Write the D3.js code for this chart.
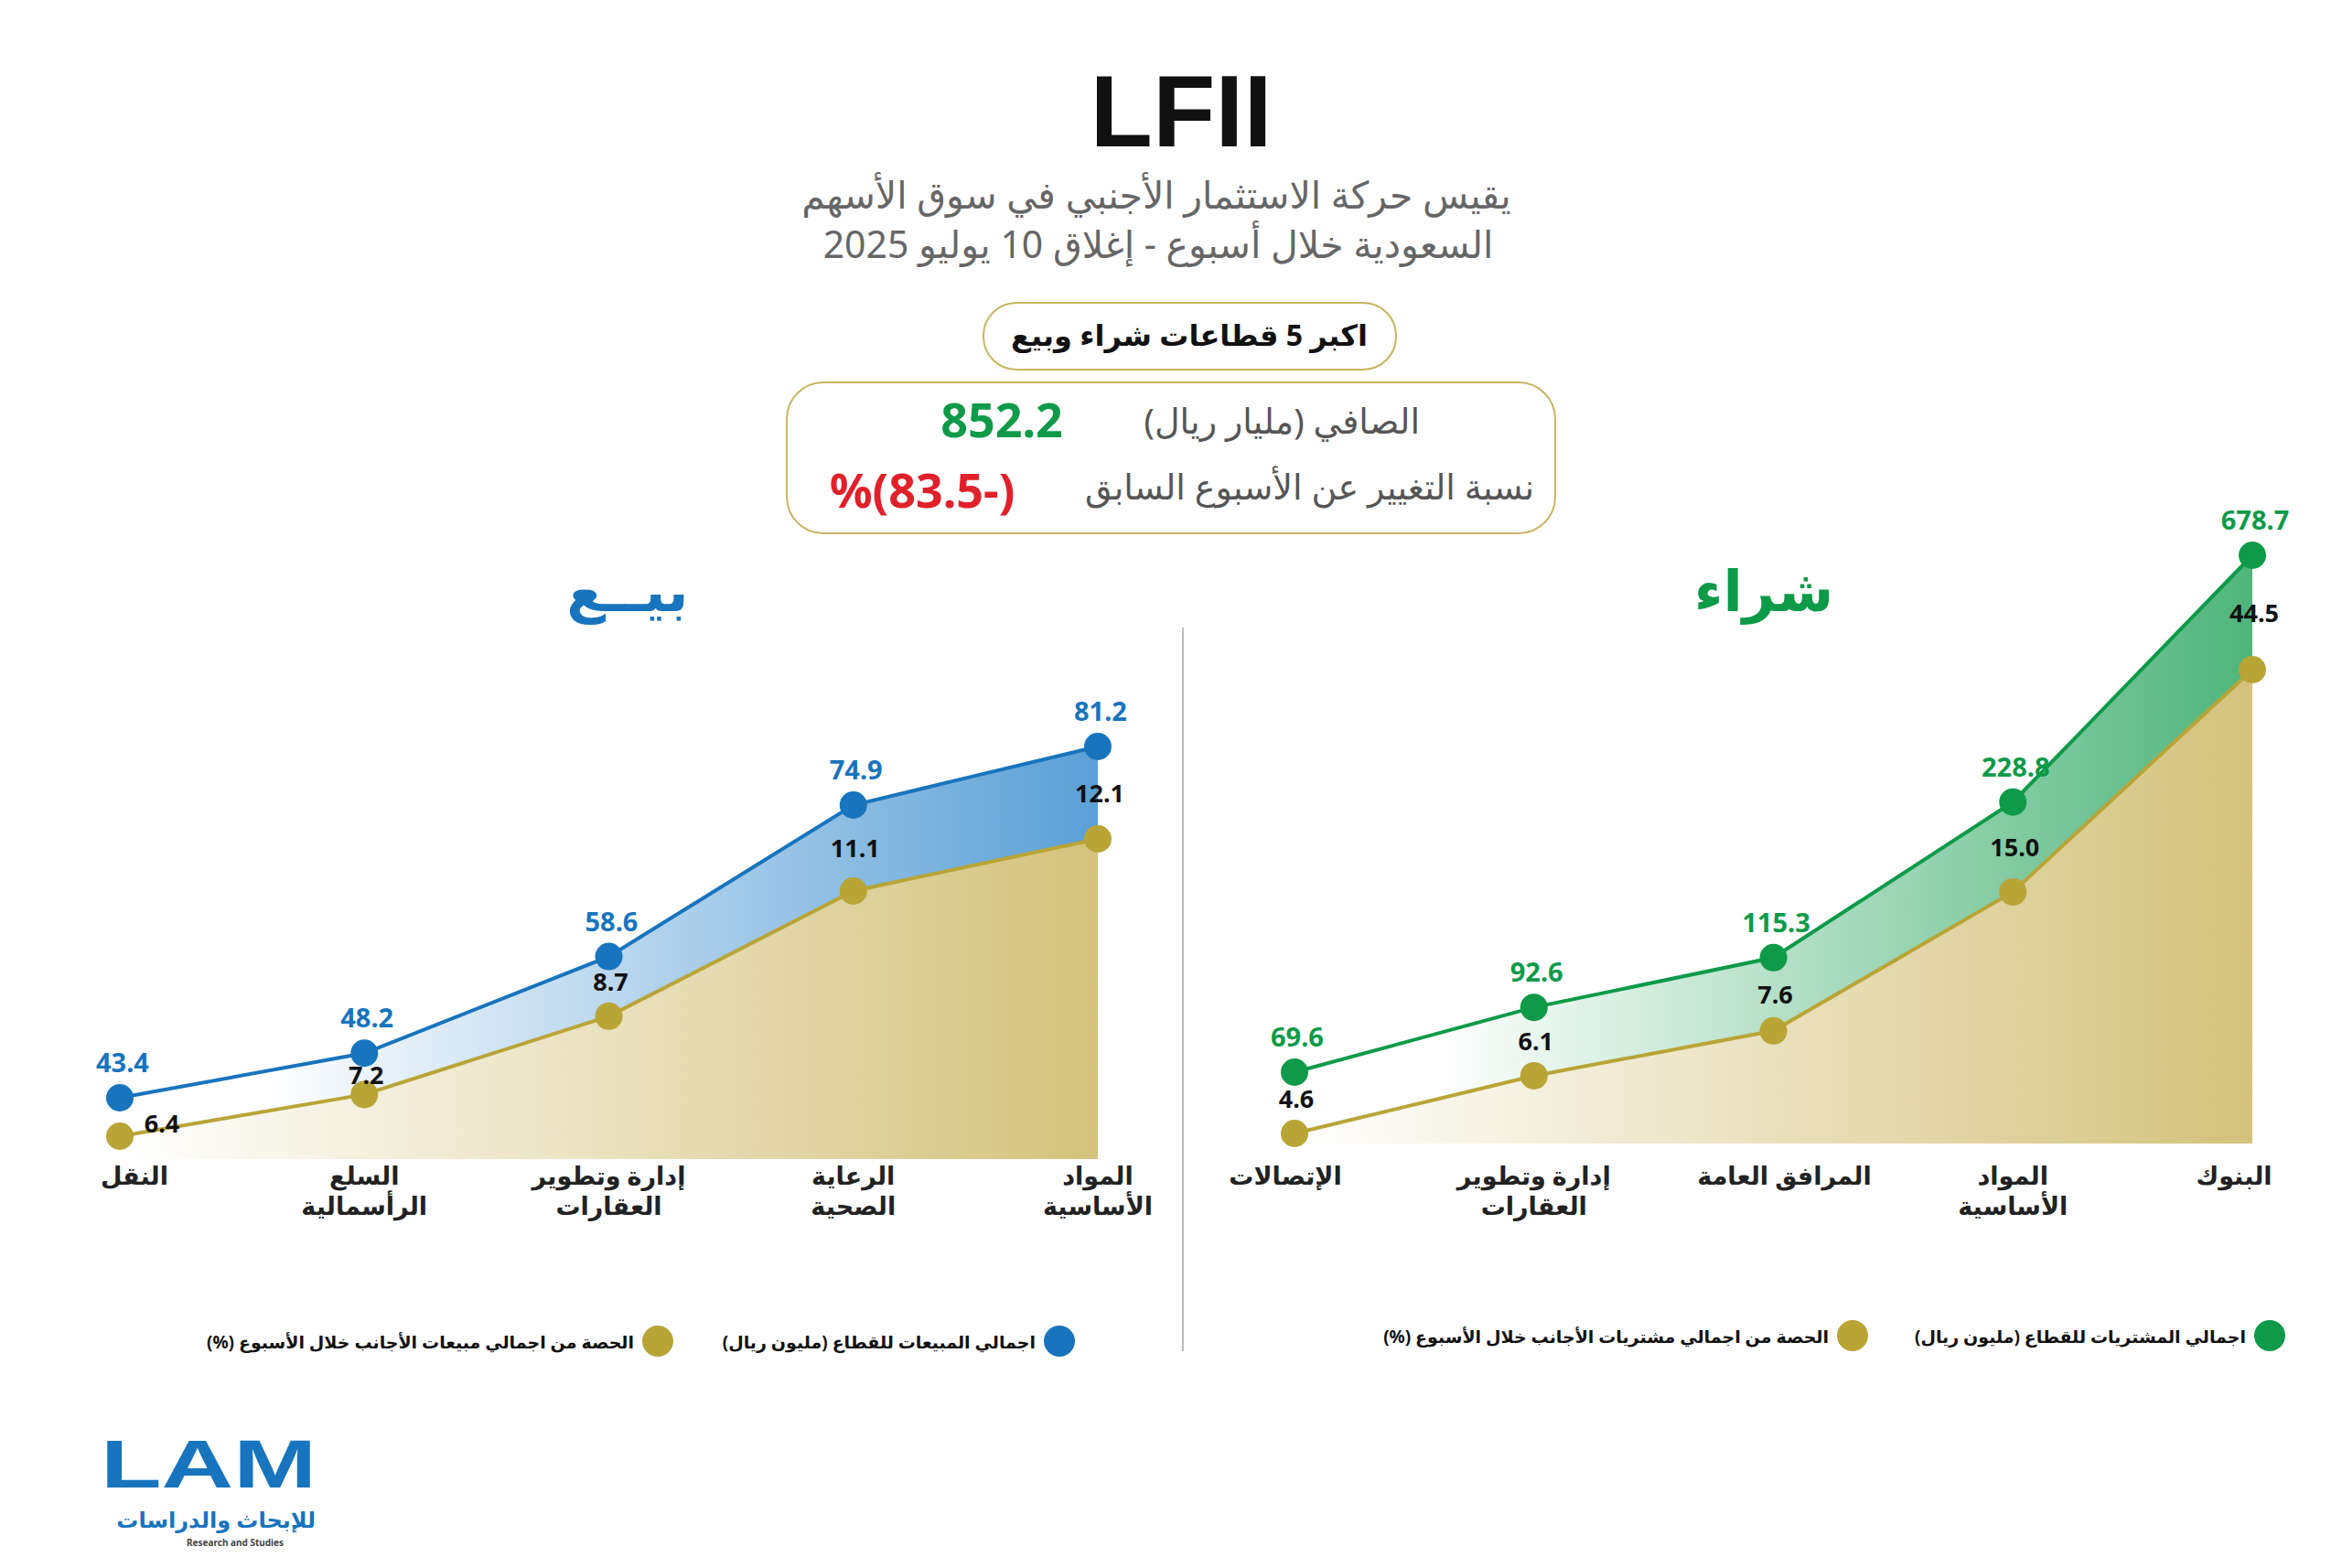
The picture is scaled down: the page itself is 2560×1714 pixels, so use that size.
<!DOCTYPE html>
<html><head><meta charset="utf-8">
<script src="https://cdn.jsdelivr.net/npm/d3@7"></script>
<style>body{margin:0;background:#fff}text{font-family:"Noto Sans","DejaVu Sans",sans-serif}</style>
</head><body><div id="chart"></div>
<script>
var sellSectors = [["النقل"], ["السلع", "الرأسمالية"], ["إدارة وتطوير", "العقارات"], ["الرعاية", "الصحية"], ["المواد", "الأساسية"]];
var sellTotals = [43.4, 48.2, 58.6, 74.9, 81.2];
var sellShares = [6.4, 7.2, 8.7, 11.1, 12.1];
var buySectors = [["الإتصالات"], ["إدارة وتطوير", "العقارات"], ["المرافق العامة"], ["المواد", "الأساسية"], ["البنوك"]];
var buyTotals = [69.6, 92.6, 115.3, 228.8, 678.7];
var buyShares = [4.6, 6.1, 7.6, 15.0, 44.5];
var netValue = "852.2", changeValue = "%(83.5-)";

var W = 2560, H = 1714;
var blue = "#1874bd", green = "#0e9a48", gold = "#b9a436", tan = "#d4c27c";
var svg = d3.select("#chart").append("svg").attr("width", W).attr("height", H);
var defs = svg.append("defs");

function grad(id, color, x0, x1, op) {
    var g = defs.append("linearGradient").attr("id", id).attr("gradientUnits", "userSpaceOnUse")
        .attr("x1", x0).attr("x2", x1).attr("y1", 0).attr("y2", 0);
    g.append("stop").attr("offset", 0).attr("stop-color", color).attr("stop-opacity", 0);
    g.append("stop").attr("offset", 1).attr("stop-color", color).attr("stop-opacity", op);
}

// place arabic text by its right edge
function rightText(right, y, size, weight, color, str) {
    var t = svg.append("text").attr("y", y).attr("text-anchor", "middle").attr("direction", "rtl")
        .attr("font-size", size).attr("font-weight", weight).attr("fill", color).text(str);
    var len = t.node().getComputedTextLength();
    t.attr("x", right - len / 2);
    return t;
}

// header
svg.append("text").attr("x", 1291).attr("y", 160).attr("text-anchor", "middle")
    .style("font-family", "'Liberation Sans Narrow','Liberation Sans',sans-serif")
    .attr("font-size", 112).attr("font-weight", 700).attr("fill", "#111").text("LFII");
svg.append("text").attr("x", 1264).attr("y", 228).attr("text-anchor", "middle").attr("direction", "rtl")
    .attr("font-size", 41).attr("fill", "#666").text("يقيس حركة الاستثمار الأجنبي في سوق الأسهم");
svg.append("text").attr("x", 1266).attr("y", 282).attr("text-anchor", "middle").attr("direction", "rtl")
    .attr("font-size", 41).attr("fill", "#666").text("السعودية خلال أسبوع - إغلاق 10 يوليو 2025");

svg.append("rect").attr("x", 1075).attr("y", 331).attr("width", 451).attr("height", 73).attr("rx", 36)
    .attr("fill", "#fff").attr("stroke", "#c9b560").attr("stroke-width", 2);
svg.append("text").attr("x", 1300).attr("y", 378).attr("text-anchor", "middle").attr("direction", "rtl")
    .attr("font-size", 32).attr("font-weight", 700).attr("fill", "#111").text("اكبر 5 قطاعات شراء وبيع");

svg.append("rect").attr("x", 860).attr("y", 418).attr("width", 840).attr("height", 165).attr("rx", 40)
    .attr("fill", "#fff").attr("stroke", "#c9b560").attr("stroke-width", 2);
rightText(1552, 474, 38, 400, "#555", "الصافي (مليار ريال)");
svg.append("text").attr("x", 1095).attr("y", 478).attr("text-anchor", "middle")
    .attr("font-size", 52).attr("font-weight", 700).attr("fill", green).text(netValue);
rightText(1677, 546, 38, 400, "#555", "نسبة التغيير عن الأسبوع السابق");
svg.append("text").attr("x", 1008).attr("y", 555).attr("text-anchor", "middle")
    .attr("font-size", 52).attr("font-weight", 700).attr("fill", "#e0202a").text(changeValue);

svg.append("line").attr("x1", 1293).attr("x2", 1293).attr("y1", 686).attr("y2", 1477)
    .attr("stroke", "#bbb").attr("stroke-width", 2);

function drawPanel(cfg) {
    var g = svg.append("g");
    var x = d3.scalePoint().domain(d3.range(5)).range(cfg.xr);
    var yT = cfg.yT, yS = cfg.yS;
    grad(cfg.id + "a", tan, cfg.xr[0], cfg.xr[1], 1);
    grad(cfg.id + "b", cfg.band, cfg.xr[0] + (cfg.xr[1] - cfg.xr[0]) * 0.15, cfg.xr[1], 0.85);

    var idx = d3.range(5);
    g.append("path").datum(idx).attr("fill", "url(#" + cfg.id + "a)")
        .attr("d", d3.area().x(function(i) { return x(i); }).y0(cfg.base).y1(function(i) { return yS(cfg.shares[i]); }));
    g.append("path").datum(idx).attr("fill", "url(#" + cfg.id + "b)")
        .attr("d", d3.area().x(function(i) { return x(i); })
            .y0(function(i) { return yS(cfg.shares[i]); }).y1(function(i) { return yT(cfg.totals[i]); }));
    g.append("path").datum(idx).attr("fill", "none").attr("stroke", gold).attr("stroke-width", 4)
        .attr("d", d3.line().x(function(i) { return x(i); }).y(function(i) { return yS(cfg.shares[i]); }));
    g.append("path").datum(idx).attr("fill", "none").attr("stroke", cfg.color).attr("stroke-width", 4)
        .attr("d", d3.line().x(function(i) { return x(i); }).y(function(i) { return yT(cfg.totals[i]); }));

    g.selectAll(".gs").data(idx).enter().append("circle")
        .attr("cx", function(i) { return x(i); }).attr("cy", function(i) { return yS(cfg.shares[i]); })
        .attr("r", 15).attr("fill", gold);
    g.selectAll(".ts").data(idx).enter().append("circle")
        .attr("cx", function(i) { return x(i); }).attr("cy", function(i) { return yT(cfg.totals[i]); })
        .attr("r", 15).attr("fill", cfg.color);

    g.selectAll(".tl").data(idx).enter().append("text")
        .attr("x", function(i) { return x(i) + 3; }).attr("y", function(i) { return yT(cfg.totals[i]) - 28; })
        .attr("text-anchor", "middle").attr("font-size", 29).attr("font-weight", 700).attr("fill", cfg.color)
        .text(function(i) { return cfg.totals[i].toFixed(1); });
    g.selectAll(".sl").data(idx).enter().append("text")
        .attr("x", function(i) { return x(i) + (i === 0 && cfg.id === "s" ? 46 : 2); })
        .attr("y", function(i) {
            if (i === 0 && cfg.id === "s") return yS(cfg.shares[i]) - 4;
            var mid = (yS(cfg.shares[i]) + yT(cfg.totals[i])) / 2;
            return Math.max(Math.min(mid + 10, yS(cfg.shares[i]) - 28), yT(cfg.totals[i]) + 34);
        })
        .attr("text-anchor", "middle").attr("font-size", 27).attr("font-weight", 700).attr("fill", "#111")
        .text(function(i) { return cfg.shares[i].toFixed(1); });

    g.selectAll(".cat").data(idx).enter().append("text")
        .attr("x", function(i) { return x(i) + cfg.labelDx[i]; }).attr("y", 1295)
        .attr("text-anchor", "middle").attr("font-size", 27).attr("font-weight", 700).attr("fill", "#222")
        .each(function(i) {
            var t = d3.select(this);
            cfg.sectors[i].forEach(function(s, k) {
                t.append("tspan").attr("x", x(i) + cfg.labelDx[i]).attr("dy", k ? 33 : 0).text(s);
            });
        });

    svg.append("text").attr("x", cfg.titleX).attr("y", 668).attr("text-anchor", "middle")
        .attr("font-size", 62).attr("font-weight", 700).attr("fill", cfg.color).text(cfg.title);

    cfg.legend.forEach(function(l) {
        svg.append("circle").attr("cx", l.cx).attr("cy", cfg.legendY).attr("r", 17).attr("fill", l.c);
        rightText(l.cx - 26, cfg.legendY + 8, 19, 700, "#111", l.t);
    });
}

drawPanel({
    id: "s", color: blue, band: "#3d8fcf", xr: [131, 1200], base: 1267,
    yT: d3.scaleLinear().domain([43.4, 81.2]).range([1200, 816]),
    yS: d3.scaleLinear().domain([6.4, 12.1]).range([1242, 917]),
    totals: sellTotals, shares: sellShares, sectors: sellSectors,
    labelDx: [16, 0, 0, 0, 0], title: "بيــع", titleX: 686, legendY: 1466,
    legend: [{cx: 1158, c: blue, t: "اجمالي المبيعات للقطاع (مليون ريال)"},
             {cx: 719, c: gold, t: "الحصة من اجمالي مبيعات الأجانب خلال الأسبوع (%)"}]
});
drawPanel({
    id: "b", color: green, band: "#2fa863", xr: [1415, 2462], base: 1250,
    yT: d3.scaleLog().domain([69.6, 678.7]).range([1172, 607]),
    yS: d3.scaleLog().domain([4.6, 44.5]).range([1239, 732]),
    totals: buyTotals, shares: buyShares, sectors: buySectors,
    labelDx: [-10, 0, 12, 0, -20], title: "شراء", titleX: 1928, legendY: 1460,
    legend: [{cx: 2481, c: green, t: "اجمالي المشتريات للقطاع (مليون ريال)"},
             {cx: 2025, c: gold, t: "الحصة من اجمالي مشتريات الأجانب خلال الأسبوع (%)"}]
});

// logo
svg.append("text").attr("x", 110).attr("y", 1626).attr("font-size", 74).attr("font-weight", 900)
    .style("font-family", "'Liberation Sans','Noto Sans',sans-serif")
    .attr("fill", blue).attr("textLength", 236).attr("lengthAdjust", "spacingAndGlyphs").text("LAM");
rightText(345, 1670, 24, 700, blue, "للإبحاث والدراسات");
svg.append("text").attr("x", 204).attr("y", 1690).attr("font-size", 10).attr("font-weight", 700)
    .attr("fill", "#444").text("Research and Studies");
</script></body></html>
